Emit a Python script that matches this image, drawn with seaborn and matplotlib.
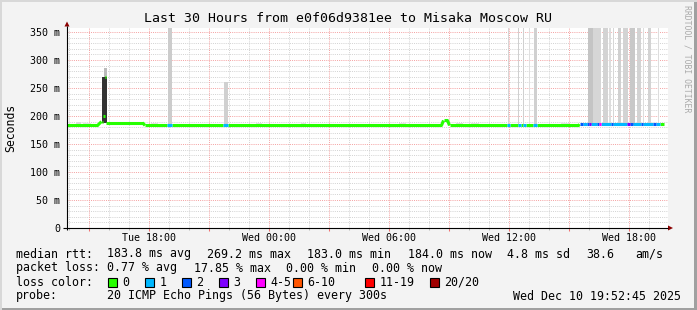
import numpy as np
import pandas as pd
import matplotlib
matplotlib.use("Agg")
import matplotlib.pyplot as plt
import seaborn as sns
from matplotlib.patches import Rectangle, Polygon
from matplotlib.lines import Line2D

# ---------------- data ----------------
title = "Last 30 Hours from e0f06d9381ee to Misaka Moscow RU"
y_ticks = [0, 50, 100, 150, 200, 250, 300, 350]
y_tick_labels = ["0", "50 m", "100 m", "150 m", "200 m", "250 m", "300 m", "350 m"]
x_ticks = [15, 18, 21, 24, 27, 30, 33, 36, 39, 42]          # hours since Tue 00:00
x_tick_labels = ["", "Tue 18:00", "", "Wed 00:00", "", "Wed 06:00", "", "Wed 12:00", "", "Wed 18:00"]
x_start, x_end = 13.9, 43.975
y_top = 357

loss_labels = ["0", "1", "2", "3", "4-5", "6-10", "11-19", "20/20"]
loss_colors = ["#26ff00", "#00b8ff", "#0059ff", "#7e00ff", "#ff00ff", "#ff5500", "#ff0000", "#a10000"]

# median rtt pieces (hour from, hour to, ms from, ms to, loss bucket)
med_t0 = [13.9, 15.45, 15.65, 15.7, 15.8, 15.875, 17.7, 17.825, 18.9, 19.15, 21.7, 21.95, 32.65, 32.75, 32.95,
          33.05, 35.9, 36.05, 36.45, 36.6, 36.7, 36.85, 37.2, 37.4, 39.5,
          39.55, 39.7, 39.9, 40.0, 40.1, 40.4, 40.5, 40.6, 41.1, 41.2, 41.9, 42.05, 42.2, 42.6, 42.7, 43.2, 43.35, 43.55]
med_t1 = [15.45, 15.65, 15.7, 15.8, 15.875, 17.7, 17.825, 18.9, 19.15, 21.7, 21.95, 32.65, 32.75, 32.95, 33.05,
          35.9, 36.05, 36.45, 36.6, 36.7, 36.85, 37.2, 37.4, 39.5, 39.55,
          39.7, 39.9, 40.0, 40.1, 40.4, 40.5, 40.6, 41.1, 41.2, 41.9, 42.05, 42.2, 42.6, 42.7, 43.2, 43.35, 43.55, 43.75]
med_v0 = [183, 183, 190, 200, 270, 188, 188, 183, 183, 183, 183, 183, 183, 192, 192,
          183, 183, 183, 183, 183, 184, 183, 183, 183, 183,
          185, 185, 185, 185, 185, 185, 185, 185, 185, 185, 185, 185, 185, 185, 185, 185, 185, 185]
med_v1 = [183, 190, 190, 200, 270, 188, 183, 183, 183, 183, 183, 183, 192, 192, 183,
          183, 183, 183, 183, 183, 184, 183, 183, 183, 185,
          185, 185, 185, 185, 185, 185, 185, 185, 185, 185, 185, 185, 185, 185, 185, 185, 185, 185]
med_loss = [0, 0, 0, 0, 0, 0, 0, 0, 1, 0, 1, 0, 0, 0, 0,
            0, 1, 0, 1, 0, 1, 0, 1, 0, 0,
            2, 1, 2, 3, 1, 2, 4, 1, 2, 1, 3, 2, 1, 2, 1, 2, 1, 0]

# smoke bands (hour from, hour to, ms low, ms high, grey)
smoke_t0 = [15.65, 15.75, 18.95, 21.75, 35.95, 36.45, 36.7, 37.0, 37.25, 39.95, 40.2, 40.7, 41.0, 41.2, 41.45,
            41.7, 42.05, 42.4, 42.7, 42.95, 43.45,
            14.35, 14.7, 18.1, 19.85, 23.35, 25.6, 30.5, 33.35, 34.1, 38.6]
smoke_t1 = [15.9, 15.9, 19.15, 21.95, 36.05, 36.55, 36.8, 37.05, 37.4, 40.2, 40.6, 40.95, 41.1, 41.3, 41.65,
            41.95, 42.3, 42.6, 42.8, 43.1, 43.5,
            14.6, 15.1, 18.5, 20.1, 23.7, 25.85, 30.85, 33.7, 34.5, 39.0]
smoke_lo = [187, 270, 184, 184, 184, 184, 184, 184, 184, 184, 184, 184, 184, 184, 184,
            184, 184, 184, 184, 184, 184,
            184, 184, 184, 184, 184, 184, 184, 184, 184, 184]
smoke_hi = [270, 285, 357, 261, 357, 357, 357, 357, 357, 357, 357, 357, 357, 357, 357,
            357, 357, 357, 357, 357, 357,
            189, 187, 187, 186, 188, 187, 187, 188, 187, 187]
smoke_col = ["#333333", "#bbbbbb", "#cccccc", "#d0d0d0", "#d6d6d6", "#d0d0d0", "#d0d0d0", "#e0e0e0", "#d0d0d0",
             "#c4c4c4", "#d6d6d6", "#d3d3d3", "#dddddd", "#d6d6d6", "#d0d0d0",
             "#d3d3d3", "#c8c8c8", "#d3d3d3", "#dddddd", "#d3d3d3", "#dddddd",
             "#dddddd", "#e4e4e4", "#e4e4e4", "#e4e4e4", "#e4e4e4", "#e4e4e4", "#e4e4e4", "#dddddd", "#e4e4e4", "#e4e4e4"]

# ---------------- figure ----------------
W, H = 697, 310
sns.set_theme(style="white")
plt.rcParams["font.family"] = ["DejaVu Sans Mono"]
plt.rcParams["lines.solid_capstyle"] = "butt"
plt.rcParams["lines.solid_joinstyle"] = "miter"

fig = plt.figure(figsize=(W / 100, H / 100), dpi=100, facecolor="#f3f3f3")


def fx(px):
    return px / W


def fy(py):
    return 1 - py / H


L_px, R_px, T_px, B_px = 66.5, 668, 28, 228
ax = fig.add_axes([fx(L_px), fy(B_px), (R_px - L_px) / W, (B_px - T_px) / H])
ax.set_facecolor("white")
ax.set_xlim(x_start, x_end)
ax.set_ylim(0, y_top)
for s in ax.spines.values():
    s.set_visible(False)

# grid (under the smoke)
dot = (0, (1, 1.2))
for h in np.arange(14, 44, 1):
    if h % 3:
        ax.axvline(h, color="#d2d2d2", lw=0.7, ls=dot, zorder=0.5)
for v in range(10, 360, 10):
    if v % 50:
        ax.axhline(v, color="#d2d2d2", lw=0.7, ls=dot, zorder=0.5)
for h in x_ticks:
    ax.axvline(h, color="#f4a0a0", lw=0.7, ls=dot, zorder=0.6)
for v in y_ticks[1:]:
    ax.axhline(v, color="#f4a0a0", lw=0.7, ls=dot, zorder=0.6)

# smoke
for t0, t1, lo, hi, c in zip(smoke_t0, smoke_t1, smoke_lo, smoke_hi, smoke_col):
    ax.bar(t0, hi - lo, width=t1 - t0, bottom=lo, align="edge", color=c, linewidth=0, zorder=1)

# median line via seaborn
rows = []
for i, (t0, t1, v0, v1, lc) in enumerate(zip(med_t0, med_t1, med_v0, med_v1, med_loss)):
    rows.append((i, t0, v0, loss_labels[lc]))
    rows.append((i, t1, v1, loss_labels[lc]))
df = pd.DataFrame(rows, columns=["seg", "hour", "rtt", "loss"])
sns.lineplot(data=df, x="hour", y="rtt", hue="loss", units="seg", estimator=None,
             palette=dict(zip(loss_labels, loss_colors)), hue_order=loss_labels,
             linewidth=2.2, legend=False, ax=ax, zorder=3, sort=False)
ax.set_xlabel("")
ax.set_ylabel("")

# ticks
ax.set_yticks(y_ticks)
ax.set_yticklabels(y_tick_labels)
ax.set_xticks(x_ticks)
ax.set_xticklabels(x_tick_labels)
ax.set_xticks(np.arange(14, 44, 1), minor=True)
ax.tick_params(axis="y", length=0, pad=4.6, labelsize=7.2, colors="#000000")
ax.tick_params(axis="x", which="major", length=1.8, width=0.75, color="#f07070", pad=1.6,
               labelsize=7.2, labelcolor="#000000", direction="out", bottom=True)
ax.tick_params(axis="x", which="minor", length=1.4, width=0.75, color="#bbbbbb", direction="out", bottom=True)
ax.grid(False)

# axes lines with arrows
fig.add_artist(Line2D([fx(L_px + 0.5), fx(L_px + 0.5)], [fy(B_px + 2), fy(26)], color="black", lw=0.8))
fig.add_artist(Line2D([fx(63), fx(668)], [fy(B_px), fy(B_px)], color="black", lw=0.8))
fig.add_artist(Polygon([(fx(64.5), fy(26.5)), (fx(69.5), fy(26.5)), (fx(67), fy(21.5))],
                       closed=True, facecolor="#8b0000", edgecolor="none"))
fig.add_artist(Polygon([(fx(668), fy(225.5)), (fx(668), fy(230.5)), (fx(673), fy(228))],
                       closed=True, facecolor="#8b0000", edgecolor="none"))

# titles
fig.text(fx(348), fy(19), title, ha="center", va="center", fontsize=9.55, color="black")
fig.text(fx(11), fy(128), "Seconds", ha="center", va="center", rotation=90, fontsize=8.3, color="black")
fig.text(fx(687), fy(5), "RRDTOOL / TOBI OETIKER", ha="center", va="top", rotation=270,
         fontsize=5.9, color="#aaaaaa")

# legend text
fs = 8.35
rows_txt = [
    (254, [(16, "median rtt:"), (107, "183.8 ms avg"), (207, "269.2 ms max"), (307, "183.0 ms min"),
           (408, "184.0 ms now"), (507, "4.8 ms sd"), (586, "38.6"), (635, "am/s")]),
    (268, [(16, "packet loss:"), (107, "0.77 % avg"), (194, "17.85 % max"), (286, "0.00 % min"),
           (372, "0.00 % now")]),
    (282, [(16, "loss color:")]),
    (296, [(16, "probe:"), (107, "20 ICMP Echo Pings (56 Bytes) every 300s"), (513, "Wed Dec 10 19:52:45 2025")]),
]
for yy, items in rows_txt:
    for xx, s in items:
        fig.text(fx(xx), fy(yy), s, ha="left", va="center", fontsize=fs, color="black")

box_x = [108, 145, 182, 219, 256, 293, 365, 430]
for bx, lab, col in zip(box_x, loss_labels, loss_colors):
    fig.add_artist(Rectangle((fx(bx), fy(286.5)), 8.5 / W, 8.5 / H, facecolor=col, edgecolor="black", lw=0.8))
    fig.text(fx(bx + 14.5), fy(282), lab, ha="left", va="center", fontsize=fs, color="black")

# 3D frame
fig.add_artist(Rectangle((0, 0), 1, 2 / H, facecolor="#a0a0a0", edgecolor="none"))
fig.add_artist(Rectangle((1 - 3 / W, 0), 3 / W, 1, facecolor="#a0a0a0", edgecolor="none"))
fig.add_artist(Rectangle((0, 1 - 2 / H), 1, 2 / H, facecolor="#d8d8d8", edgecolor="none"))
fig.add_artist(Rectangle((0, 0), 2 / W, 1, facecolor="#d8d8d8", edgecolor="none"))

fig.savefig("out.png", dpi=100, facecolor=fig.get_facecolor())
